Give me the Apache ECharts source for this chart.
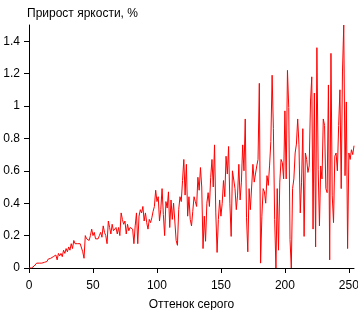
<!DOCTYPE html>
<html>
<head>
<meta charset="utf-8">
<title>Прирост яркости</title>
<script src="https://cdn.jsdelivr.net/npm/echarts@6/dist/echarts.min.js"></script>
<style>
  html, body { margin: 0; padding: 0; background: #fff; }
  #chart { width: 358px; height: 310px; }
</style>
</head>
<body>
<div id="chart"></div>
<script>
// прирост яркости (%) для оттенков серого 0..254
const gain = [
  0, 0, 0, 0.005, 0.012, 0.02, 0.03, 0.03, 0.03, 0.03,
  0.03, 0.03, 0.035, 0.045, 0.04, 0.055, 0.045, 0.06, 0.05, 0.07,
  0.06, 0.08, 0.05, 0.09, 0.075, 0.09, 0.07, 0.11, 0.09, 0.12,
  0.1, 0.13, 0.11, 0.15, 0.12, 0.17, 0.15, 0.16, 0.15, 0.155,
  0.15, 0.145, 0.1, 0.06, 0.2, 0.18, 0.19, 0.17, 0.2, 0.24,
  0.2, 0.22, 0.18, 0.19, 0.18, 0.2, 0.22, 0.19, 0.26, 0.22,
  0.2, 0.15, 0.29, 0.25, 0.21, 0.27, 0.23, 0.22, 0.25, 0.21,
  0.25, 0.2, 0.34, 0.3, 0.27, 0.29, 0.21, 0.27, 0.23, 0.25,
  0.25, 0.24, 0.15, 0.26, 0.34, 0.15, 0.32, 0.36, 0.34, 0.38,
  0.29, 0.34, 0.28, 0.24, 0.3, 0.28, 0.31, 0.35, 0.38, 0.48,
  0.41, 0.44, 0.29, 0.36, 0.49, 0.33, 0.2, 0.41, 0.37, 0.47,
  0.25, 0.42, 0.3, 0.4, 0.39, 0.17, 0.14, 0.36, 0.44, 0.41,
  0.54, 0.67, 0.45, 0.64, 0.32, 0.44, 0.3, 0.26, 0.35, 0.44,
  0.41, 0.38, 0.56, 0.48, 0.62, 0.5, 0.12, 0.32, 0.165, 0.4,
  0.465, 0.38, 0.56, 0.67, 0.5, 0.76, 0.34, 0.096, 0.3, 0.42,
  0.32, 0.4, 0.54, 0.44, 0.69, 0.58, 0.75, 0.4, 0.195, 0.6,
  0.6, 0.49, 0.36, 0.45, 0.64, 0.42, 0.53, 0.76, 0.6, 0.92,
  0.31, 0.1, 0.49, 0.36, 0.5, 0.64, 0.53, 0.58, 0.63, 0.67,
  1.14, 0.03, 0.32, 0.49, 0.47, 0.4, 0.57, 0.51, 0.63, 0.78,
  1.19, 0.86, 0.3, 0, 0.49, 0.11, 0.53, 0.67, 0.65, 0.55,
  0.97, 0.55, 1.22, 0.99, 0.175, 0, 0.49, 0.55, 0.71, 0.765,
  0.92, 0.76, 0.34, 0.53, 0.86, 0.195, 0.71, 0.67, 0.59, 0.63,
  1.025, 1.18, 0.24, 1.08, 0.13, 1.36, 0.61, 0.26, 0.63, 0.55,
  0.92, 0.88, 0.49, 0.465, 1.13, 0.05, 1.325, 0.445, 0.28, 0.69,
  0.71, 0.6, 0.88, 1.1, 0.49, 1.21, 1.5, 0.57, 1.025, 0.12,
  0.71, 0.67, 0.73, 0.7, 0.755
]
const xTicks = [0, 50, 100, 150, 200, 250]
const yTicks = [0, 0.2, 0.4, 0.6, 0.8, 1, 1.2, 1.4]

const font = 'Liberation Sans, Arial, sans-serif'
const myChart = echarts.init(document.getElementById('chart'))

const option = {
  animation: false,
  title: {
    text: 'Прирост яркости, %',
    left: 22,
    top: 3,
    textStyle: { fontFamily: font, fontSize: 12, fontWeight: 'normal', color: '#000' }
  },
  grid: { left: 29, right: 4, top: 25, bottom: 42, outerBoundsMode: 'none', containLabel: false },
  xAxis: {
    type: 'value',
    min: 0,
    max: 254,
    name: 'Оттенок серого',
    nameLocation: 'middle',
    nameGap: 31,
    nameTextStyle: { fontFamily: font, fontSize: 12, color: '#000' },
    splitLine: { show: false },
    axisLine: { lineStyle: { color: '#000', width: 1 } },
    axisTick: { length: 5, lineStyle: { color: '#000' }, customValues: xTicks },
    axisLabel: { fontFamily: font, fontSize: 12, color: '#000', margin: 12, customValues: xTicks }
  },
  yAxis: {
    type: 'value',
    min: 0,
    max: 1.5,
    splitLine: { show: false },
    axisLine: { show: true, lineStyle: { color: '#000', width: 1 } },
    axisTick: { show: true, length: 5, lineStyle: { color: '#000' }, customValues: yTicks },
    axisLabel: { fontFamily: font, fontSize: 12, color: '#000', margin: 9, customValues: yTicks }
  },
  series: [
    {
      type: 'line',
      data: gain.map((v, i) => [i, v]),
      showSymbol: false,
      lineStyle: { color: '#ff0000', width: 1 },
      z: 1
    }
  ]
}
myChart.setOption(option)
</script>
</body>
</html>
